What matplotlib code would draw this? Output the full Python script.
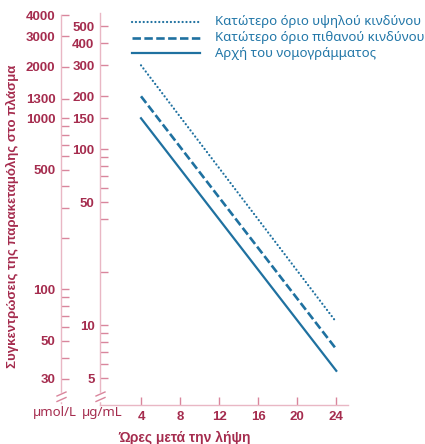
import matplotlib
matplotlib.use('Agg')
import matplotlib.pyplot as plt
from matplotlib.lines import Line2D
from matplotlib import font_manager

# ---------------- data ----------------
hours = [4, 24]
high_risk = [300, 10.4]        # µg/mL, dotted
probable_risk = [200, 7.3]     # µg/mL, dashed
nomogram_start = [150, 5.5]    # µg/mL, solid
legend_labels = ['Κατώτερο όριο υψηλού κινδύνου',
                 'Κατώτερο όριο πιθανού κινδύνου',
                 'Αρχή του νομογράμματος']
x_ticks = [4, 8, 12, 16, 20, 24]
ug_major = [500, 400, 300, 200, 150, 100, 50, 10, 5]
ug_minor = [90, 80, 70, 60, 40, 20, 9, 8, 7, 6]
umol_major = [4000, 3000, 2000, 1300, 1000, 500, 100, 50, 30]
umol_minor = [900, 800, 700, 600, 400, 300, 200, 90, 80, 70, 60, 40]
x_title = 'Ώρες μετά την λήψη'
y_title = 'Συγκεντρώσεις της παρακεταμόλης στο πλάσμα'
unit_umol = 'µmol/L'
unit_ug = 'µg/mL'

# ---------------- style ----------------
W, H = 425, 444
MAROON = '#a52c4e'
SPINE = '#e9b7c4'
TICK = '#d9859c'
TEAL = '#1f71a0'
LEGTXT = '#2277a8'

names = {f.name for f in font_manager.fontManager.ttflist}
NARROW = 'Liberation Sans Narrow' if 'Liberation Sans Narrow' in names else 'Liberation Sans'
NUMFONT = [NARROW, 'DejaVu Sans']
TXTFONT = ['Noto Sans', 'DejaVu Sans']

def fx(x):
    return x / W

def fy(y):
    return 1 - y / H

fig = plt.figure(figsize=(W / 100, H / 100), dpi=100)
fig.patch.set_facecolor('white')

# main axes (µg/mL)
ax = fig.add_axes([fx(100), fy(405), 248 / W, 392 / H])
ax.set_facecolor('none')
ax.set_yscale('log')
ax.set_ylim(3.515, 595)
ax.set_xlim(-0.2, 25.2)
for s in ['top', 'right']:
    ax.spines[s].set_visible(False)
for s in ['left', 'bottom']:
    ax.spines[s].set_color(SPINE)
    ax.spines[s].set_linewidth(1.0)

ax.set_yticks(ug_major)
ax.set_yticklabels([str(v) for v in ug_major])
ax.set_yticks(ug_minor, minor=True)
ax.set_yticklabels([], minor=True)
ax.set_xticks(x_ticks)
ax.set_xticklabels([str(v) for v in x_ticks])
ax.tick_params(axis='both', which='both', direction='in', length=6, width=1,
               color=TICK, labelcolor=MAROON, labelsize=9.5, pad=4)
for lab in ax.get_xticklabels() + ax.get_yticklabels():
    lab.set_fontfamily(NUMFONT)
    lab.set_fontweight('bold')

ax.plot(hours, high_risk, color=TEAL, lw=1.6, linestyle=(0, (0.05, 1.7)),
        dash_capstyle='round', clip_on=False)
ax.plot(hours, probable_risk, color=TEAL, lw=1.9, linestyle=(0, (3.2, 1.3)),
        clip_on=False)
ax.plot(hours, nomogram_start, color=TEAL, lw=1.6, clip_on=False)

# secondary axis (µmol/L)
ax2 = fig.add_axes([fx(61), fy(403), 0.0001, (403 - 15) / H])
ax2.set_facecolor('none')
ax2.set_yscale('log')
ax2.set_ylim(21.7, 4000)
for s in ['top', 'right', 'bottom']:
    ax2.spines[s].set_visible(False)
ax2.spines['left'].set_color(SPINE)
ax2.spines['left'].set_linewidth(1.0)
ax2.set_xticks([])
ax2.set_yticks(umol_major)
ax2.set_yticklabels([str(v) for v in umol_major])
ax2.set_yticks(umol_minor, minor=True)
ax2.set_yticklabels([], minor=True)
ax2.tick_params(axis='y', which='both', direction='in', length=6, width=1,
                color=TICK, labelcolor=MAROON, labelsize=9.5, pad=4)
for lab in ax2.get_yticklabels():
    lab.set_fontfamily(NUMFONT)
    lab.set_fontweight('bold')

# axis break marks
def brk(sx):
    fig.add_artist(Line2D([fx(sx), fx(sx)], [fy(393.5), fy(400)], color='white',
                          lw=2.5, transform=fig.transFigure))
    for yc in (394.0, 399.5):
        fig.add_artist(Line2D([fx(sx - 4), fx(sx + 5)], [fy(yc + 2), fy(yc - 2)],
                              color=TICK, lw=1.0, transform=fig.transFigure))

brk(61)
brk(100)

# unit labels
fig.text(fx(55), fy(412), unit_umol, color=MAROON, fontsize=9.5, ha='center',
         va='center', family=TXTFONT)
fig.text(fx(102), fy(412), unit_ug, color=MAROON, fontsize=9.5, ha='center',
         va='center', family=TXTFONT)

# titles
fig.text(fx(118), fy(438), x_title, color=MAROON, fontsize=10, ha='left',
         va='center', fontweight='bold', family=NUMFONT)
fig.text(fx(12), fy(216), y_title, color=MAROON, fontsize=9.5, ha='center',
         va='center', rotation=90, fontweight='bold', family=NUMFONT)

# legend
leg_y = [22, 38, 53]
styles = [dict(lw=1.6, linestyle=(0, (0.05, 1.7)), dash_capstyle='round'),
          dict(lw=1.9, linestyle=(0, (3.2, 1.3))),
          dict(lw=1.6, linestyle='-')]
for yy, lab, st in zip(leg_y, legend_labels, styles):
    fig.add_artist(Line2D([fx(132), fx(200)], [fy(yy), fy(yy)], color=TEAL,
                          transform=fig.transFigure, **st))
    fig.text(fx(215), fy(yy), lab, color=LEGTXT, fontsize=9.5, ha='left',
             va='center', family=TXTFONT)

fig.savefig('out.png', dpi=100, facecolor='white')
